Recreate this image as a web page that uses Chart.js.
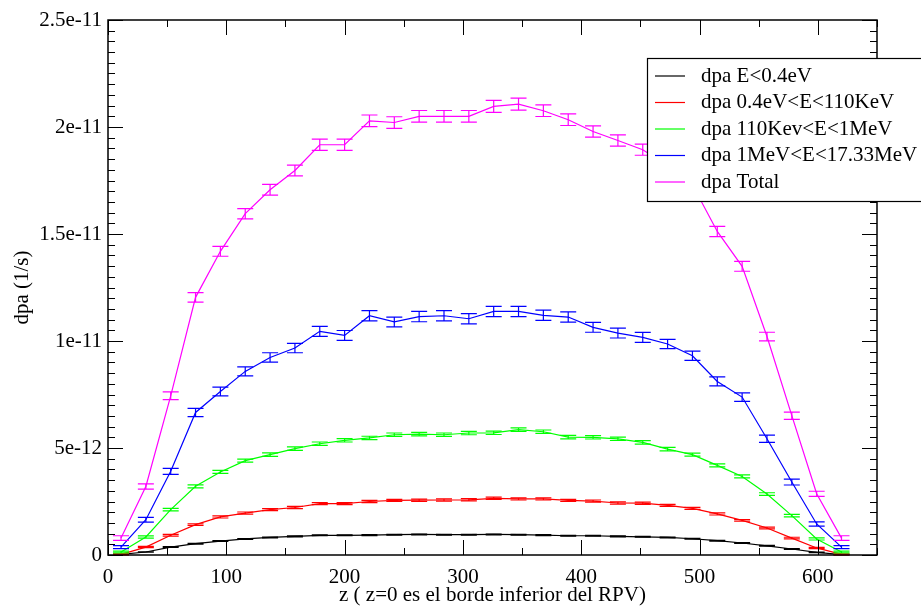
<!DOCTYPE html>
<html>
<head>
<meta charset="utf-8">
<script src="https://cdn.jsdelivr.net/npm/chart.js@4/dist/chart.umd.min.js"></script>
<style>
  body { margin: 0; background: #fff; }
  #wrap { width: 921px; height: 608px; }
</style>
</head>
<body>
<div id="wrap"><canvas id="myChart" width="921" height="608"></canvas></div>
<script>
// z positions (bin centres) along the RPV
var zPos = [11, 32, 53, 74, 95, 116, 137, 158, 179, 200, 221, 242, 263, 284, 305,
            326, 347, 368, 389, 410, 431, 452, 473, 494, 515, 536, 557, 578, 599, 620]

// dpa rates, in units of 1e-12 1/s
var dpaThermal = [0.03, 0.14, 0.37, 0.53, 0.65, 0.75, 0.82, 0.87, 0.92, 0.92, 0.93, 0.95, 0.96, 0.95, 0.95,
                  0.96, 0.95, 0.93, 0.90, 0.90, 0.87, 0.85, 0.82, 0.76, 0.67, 0.56, 0.43, 0.28, 0.12, 0.02]
var errThermal = [0.01, 0.01, 0.02, 0.02, 0.02, 0.02, 0.02, 0.02, 0.02, 0.02, 0.02, 0.02, 0.02, 0.02, 0.02,
                  0.02, 0.02, 0.02, 0.02, 0.02, 0.02, 0.02, 0.02, 0.02, 0.02, 0.02, 0.02, 0.02, 0.01, 0.01]

var dpaEpi = [0.03, 0.37, 0.92, 1.42, 1.78, 1.96, 2.12, 2.22, 2.40, 2.40, 2.50, 2.55, 2.56, 2.57, 2.58,
              2.65, 2.62, 2.62, 2.55, 2.52, 2.43, 2.42, 2.32, 2.18, 1.92, 1.62, 1.26, 0.79, 0.33, 0.03]
var errEpi = [0.02, 0.03, 0.04, 0.04, 0.05, 0.05, 0.05, 0.05, 0.05, 0.05, 0.05, 0.05, 0.05, 0.05, 0.05,
              0.05, 0.05, 0.05, 0.05, 0.05, 0.05, 0.05, 0.05, 0.05, 0.05, 0.04, 0.04, 0.04, 0.03, 0.02]

var dpaFast = [0.14, 0.84, 2.12, 3.21, 3.88, 4.41, 4.69, 4.97, 5.20, 5.36, 5.47, 5.62, 5.65, 5.62, 5.70,
               5.71, 5.86, 5.76, 5.51, 5.50, 5.43, 5.26, 4.95, 4.69, 4.19, 3.67, 2.85, 1.84, 0.75, 0.14]
var errFast = [0.04, 0.05, 0.06, 0.07, 0.07, 0.07, 0.08, 0.08, 0.08, 0.08, 0.08, 0.08, 0.08, 0.08, 0.08,
               0.08, 0.08, 0.08, 0.08, 0.08, 0.08, 0.08, 0.08, 0.07, 0.07, 0.07, 0.06, 0.06, 0.05, 0.04]

var dpaHigh = [0.37, 1.65, 3.91, 6.66, 7.64, 8.58, 9.23, 9.67, 10.45, 10.26, 11.18, 10.89, 11.14, 11.18, 11.04,
               11.38, 11.38, 11.20, 11.12, 10.64, 10.37, 10.17, 9.86, 9.31, 8.11, 7.38, 5.43, 3.41, 1.45, 0.37]
var errHigh = [0.07, 0.11, 0.14, 0.19, 0.20, 0.21, 0.22, 0.22, 0.23, 0.23, 0.24, 0.23, 0.24, 0.24, 0.24,
               0.24, 0.24, 0.24, 0.24, 0.23, 0.23, 0.23, 0.22, 0.22, 0.21, 0.20, 0.17, 0.14, 0.10, 0.07]

var dpaTotal = [0.79, 3.20, 7.44, 12.04, 14.19, 15.95, 17.07, 17.97, 19.17, 19.17, 20.29, 20.21, 20.50, 20.50, 20.50,
                20.96, 21.07, 20.76, 20.34, 19.79, 19.37, 18.94, 18.20, 17.30, 15.12, 13.49, 10.21, 6.51, 2.86, 0.79]
var errTotal = [0.11, 0.12, 0.18, 0.22, 0.23, 0.24, 0.25, 0.25, 0.26, 0.26, 0.27, 0.27, 0.27, 0.27, 0.27,
                0.28, 0.28, 0.27, 0.27, 0.26, 0.26, 0.26, 0.26, 0.25, 0.24, 0.23, 0.20, 0.17, 0.12, 0.11]

var seriesNames = ['dpa E<0.4eV', 'dpa 0.4eV<E<110KeV', 'dpa 110Kev<E<1MeV', 'dpa 1MeV<E<17.33MeV', 'dpa Total']
var seriesColors = ['#000000', '#ff0000', '#00ff00', '#0000ff', '#ff00ff']

var xTicks = [0, 100, 200, 300, 400, 500, 600]
var yTicks = [0, 5, 10, 15, 20, 25]
var yTickLabels = ['0', '5e-12', '1e-11', '1.5e-11', '2e-11', '2.5e-11']

var FONT = 'Liberation Serif'

function toPoints(vals) {
  return vals.map(function (v, i) { return {x: zPos[i], y: v} })
}

var allValues = [dpaThermal, dpaEpi, dpaFast, dpaHigh, dpaTotal]
var allErrors = [errThermal, errEpi, errFast, errHigh, errTotal]

// vertical error bars with caps, drawn right after each line
var errorBars = {
  id: 'errorBars',
  afterDatasetDraw: function (chart, args) {
    var ctx = chart.ctx
    var xs = chart.scales.x, ys = chart.scales.y
    var vals = allValues[args.index], errs = allErrors[args.index]
    ctx.save()
    ctx.strokeStyle = seriesColors[args.index]
    ctx.lineWidth = 1.2
    for (var i = 0; i < vals.length; i++) {
      var px = xs.getPixelForValue(zPos[i])
      var top = ys.getPixelForValue(vals[i] + errs[i])
      var bot = ys.getPixelForValue(vals[i] - errs[i])
      ctx.beginPath()
      ctx.moveTo(px, top); ctx.lineTo(px, bot)
      ctx.moveTo(px - 8, top); ctx.lineTo(px + 8, top)
      ctx.moveTo(px - 8, bot); ctx.lineTo(px + 8, bot)
      ctx.stroke()
    }
    ctx.restore()
  }
}

// frame, inward ticks on all four sides, and the legend box
var frameAndLegend = {
  id: 'frameAndLegend',
  afterDraw: function (chart) {
    var ctx = chart.ctx, a = chart.chartArea
    var xs = chart.scales.x, ys = chart.scales.y
    ctx.save()
    ctx.strokeStyle = '#000'
    ctx.lineWidth = 1
    ctx.beginPath()
    for (var v = 0; v <= 650; v += 50) {
      var px = Math.round(xs.getPixelForValue(v)) + 0.5
      var len = v % 100 === 0 ? 15 : 7
      ctx.moveTo(px, a.bottom); ctx.lineTo(px, a.bottom - len)
      ctx.moveTo(px, a.top); ctx.lineTo(px, a.top + len)
    }
    for (var k = 0; k <= 50; k++) {
      var py = Math.round(ys.getPixelForValue(k * 0.5)) + 0.5
      var ylen = k % 10 === 0 ? 15 : 7
      ctx.moveTo(a.left, py); ctx.lineTo(a.left + ylen, py)
      ctx.moveTo(a.right, py); ctx.lineTo(a.right - ylen, py)
    }
    ctx.stroke()
    ctx.lineWidth = 1.5
    ctx.strokeRect(a.left, a.top, a.right - a.left, a.bottom - a.top)

    // legend
    var lx = 647, ly = 58
    ctx.fillStyle = '#fff'
    ctx.fillRect(lx, ly, 290, 143)
    ctx.lineWidth = 1.2
    ctx.strokeRect(lx + 0.5, ly + 0.5, 290, 143)
    ctx.font = '21px "' + FONT + '"'
    ctx.textBaseline = 'middle'
    ctx.textAlign = 'left'
    for (var s = 0; s < seriesNames.length; s++) {
      var ry = ly + 18 + s * 26.5
      ctx.strokeStyle = seriesColors[s]
      ctx.lineWidth = 1.2
      ctx.beginPath()
      ctx.moveTo(655, ry); ctx.lineTo(685, ry)
      ctx.stroke()
      ctx.fillStyle = '#000'
      ctx.fillText(seriesNames[s], 701, ry)
    }
    ctx.restore()
  }
}

var datasets = allValues.map(function (vals, i) {
  return {
    label: seriesNames[i],
    data: toPoints(vals),
    borderColor: seriesColors[i],
    backgroundColor: seriesColors[i],
    borderWidth: 1.2,
    pointRadius: 0,
    tension: 0,
    order: allValues.length - 1 - i
  }
})

var ctx = document.getElementById('myChart').getContext('2d')
var chart = new Chart(ctx, {
  type: 'line',
  data: { datasets: datasets },
  plugins: [errorBars, frameAndLegend],
  options: {
    responsive: false,
    animation: false,
    events: [],
    layout: { padding: { left: 0, top: 20, right: 44, bottom: 0 } },
    plugins: { legend: { display: false }, tooltip: { enabled: false } },
    scales: {
      x: {
        type: 'linear',
        min: 0,
        max: 650,
        grid: { display: false, drawTicks: false },
        border: { display: false },
        afterBuildTicks: function (scale) {
          scale.ticks = xTicks.map(function (v) { return {value: v} })
        },
        afterFit: function (scale) { scale.height = 53 },
        ticks: {
          color: '#000',
          padding: 10,
          maxRotation: 0,
          font: { family: FONT, size: 21 },
          callback: function (v) { return String(v) }
        },
        title: {
          display: true,
          text: 'z ( z=0 es el borde inferior del RPV)',
          color: '#000',
          padding: { top: 0, bottom: 0 },
          font: { family: FONT, size: 21 }
        }
      },
      y: {
        type: 'linear',
        min: 0,
        max: 25,
        grid: { display: false, drawTicks: false },
        border: { display: false },
        afterBuildTicks: function (scale) {
          scale.ticks = yTicks.map(function (v) { return {value: v} })
        },
        afterFit: function (scale) { scale.width = 108 },
        ticks: {
          color: '#000',
          padding: 6,
          font: { family: FONT, size: 21 },
          callback: function (v) { return yTickLabels[yTicks.indexOf(v)] }
        },
        title: {
          display: true,
          text: 'dpa (1/s)',
          color: '#000',
          padding: { top: 10, bottom: 0 },
          font: { family: FONT, size: 21 }
        }
      }
    }
  }
})
</script>
</body>
</html>
